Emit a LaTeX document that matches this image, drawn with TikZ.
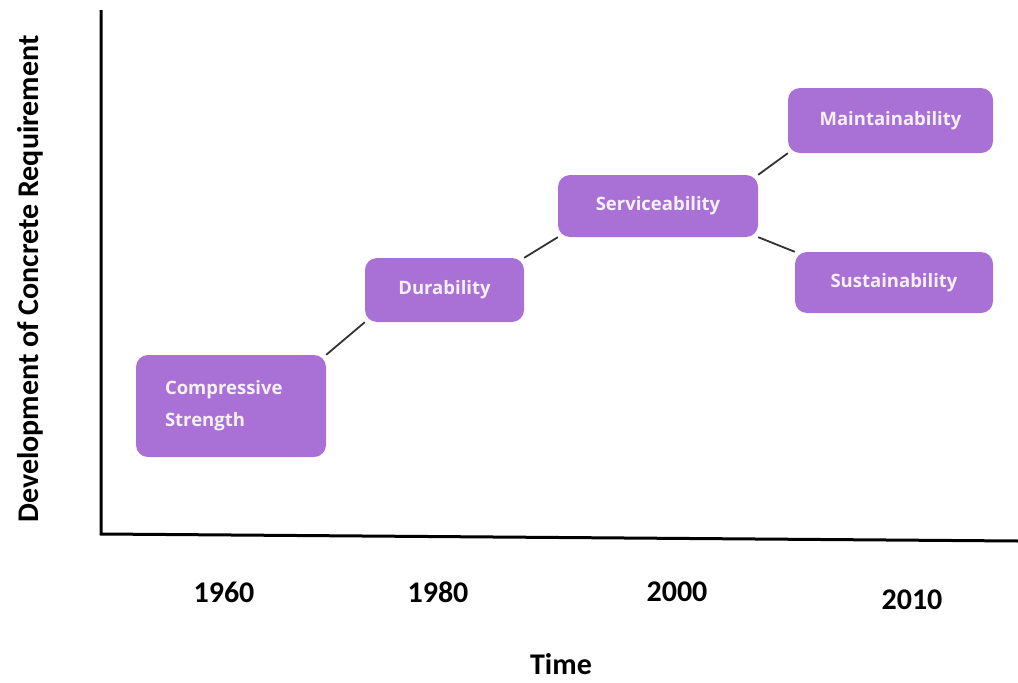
\documentclass[tikz,border=0pt]{standalone}
\usepackage{fontspec}
\setmainfont{Carlito}
\newfontfamily\boxfont{Open Sans}
\usetikzlibrary{backgrounds}
\definecolor{boxpurple}{RGB}{169,112,213}
\definecolor{boxtext}{RGB}{246,240,250}
\tikzset{
  stage/.style={fill=boxpurple, draw=none, rounded corners=12pt, inner sep=0pt,
    text=boxtext, font=\boxfont\bfseries\fontsize{18.5}{32}\selectfont},
  link/.style={draw=black!80, line width=1.8pt},
  axis/.style={draw=black, line width=3pt},
  yearlbl/.style={font=\bfseries\fontsize{30}{32}\selectfont, text=black}
}
\begin{document}
\begin{tikzpicture}[x=1pt,y=-1pt]
\useasboundingbox (0,0) rectangle (1018,683);
% axes
\coordinate (top) at (101,10);
\coordinate (orig) at (101,534);
\coordinate (xend) at (1018,541);
\draw[axis, line join=miter] (top) -- (orig) -- (xend);
% boxes
\node[stage, minimum width=190pt, minimum height=102pt, align=left, text width=132pt] (cs) at (231,406)
  {Compressive\\Strength};
\node[stage, minimum width=159pt, minimum height=64pt] (du) at (444.5,290) {Durability};
\node[stage, minimum width=200pt, minimum height=62pt] (se) at (658,206) {Serviceability};
\node[stage, minimum width=205pt, minimum height=65pt] (ma) at (890.5,120.5) {Maintainability};
\node[stage, minimum width=198pt, minimum height=61pt] (su) at (894,282.5) {Sustainability};
% connectors
\begin{scope}[on background layer]
\draw[link] (cs.north east) -- (du.south west);
\draw[link] (du.north east) -- (se.south west);
\draw[link] (se.north east) -- (ma.south west);
\draw[link] (se.south east) -- (su.north west);
\end{scope}
% labels
\node[yearlbl] (y1) at (224,592) {1960};
\node[yearlbl] (y2) at (438,592) {1980};
\node[yearlbl] (y3) at (677,592) {2000};
\node[yearlbl] (y4) at (912,600) {2010};
\node[yearlbl] (tl) at (561,664) {Time};
\node[yearlbl, rotate=90] (yl) at (30,279) {Development of Concrete Requirement};
\end{tikzpicture}
\end{document}
